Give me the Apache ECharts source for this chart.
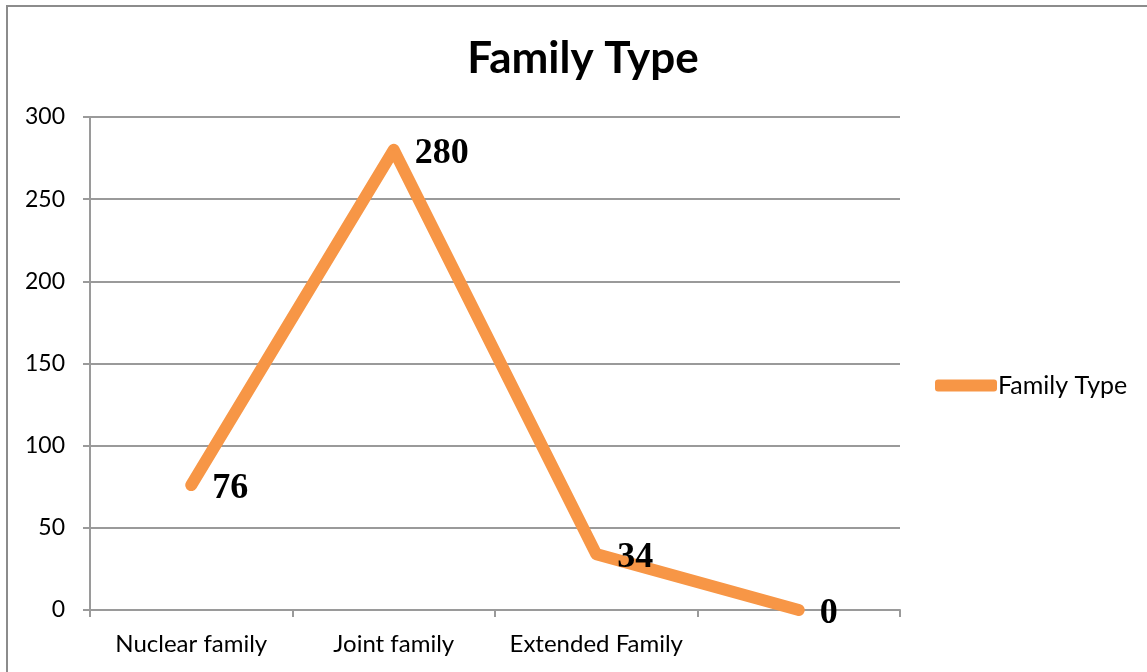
<!DOCTYPE html>
<html>
<head>
<meta charset="utf-8">
<script src="https://cdn.jsdelivr.net/npm/echarts@6/dist/echarts.min.js"></script>
<style>
  html, body { margin: 0; padding: 0; background: #fff; }
  #frame { position: absolute; left: 6px; top: 5px; width: 1160px; height: 700px; border: 2px solid #8c8c8c; box-sizing: border-box; }
  #chart { position: absolute; left: 0; top: 0; width: 1147px; height: 672px; }
</style>
</head>
<body>
<div id="frame"></div>
<div id="chart"></div>
<script>
const categories = ["Nuclear family", "Joint family", "Extended Family", ""];
const familyCounts = [76, 280, 34, 0];
const yTicks = [0, 50, 100, 150, 200, 250, 300];

const LINE_COLOR = "#F79646";
const AXIS_COLOR = "#9a9a9a";
const FONT = "Lato, 'Open Sans', sans-serif";

const chart = echarts.init(document.getElementById("chart"), null, { renderer: "canvas" });

chart.setOption({
  animation: false,
  title: {
    text: "Family Type",
    left: 578,
    textAlign: "center",
    top: 32,
    textStyle: { fontFamily: FONT, fontSize: 44, fontWeight: "bold", color: "#000" },
  },
  legend: {
    left: 930,
    top: 368,
    itemWidth: 62,
    itemHeight: 12,
    itemGap: 4,
    icon: "roundRect",
    textStyle: { fontFamily: FONT, fontSize: 25, color: "#000", padding: [0, 0, 0, -4] },
    data: ["Family Type"],
  },
  grid: { left: 90, right: 247, top: 117, bottom: 62 },
  xAxis: {
    type: "category",
    data: categories,
    boundaryGap: true,
    axisLine: { lineStyle: { color: AXIS_COLOR, width: 2 } },
    axisTick: { show: true, interval: 0, length: 7, lineStyle: { color: AXIS_COLOR, width: 2 } },
    axisLabel: { interval: 0, hideOverlap: false, fontFamily: FONT, fontSize: 24, color: "#000", margin: 22 },
  },
  yAxis: {
    type: "value",
    min: yTicks[0],
    max: yTicks[yTicks.length - 1],
    interval: 50,
    axisLine: { show: true, lineStyle: { color: AXIS_COLOR, width: 2 } },
    axisTick: { show: true, length: 7, lineStyle: { color: AXIS_COLOR, width: 2 } },
    splitLine: { lineStyle: { color: AXIS_COLOR, width: 2 } },
    axisLabel: { fontFamily: FONT, fontSize: 23, color: "#000", margin: 25 },
  },
  series: [
    {
      name: "Family Type",
      type: "line",
      data: familyCounts,
      symbol: "circle",
      symbolSize: 2,
      showSymbol: true,
      color: LINE_COLOR,
      itemStyle: { color: LINE_COLOR },
      lineStyle: { color: LINE_COLOR, width: 12, cap: "round", join: "round" },
      label: {
        show: true,
        position: "right",
        distance: 20,
        offset: [0, 4],
        fontFamily: "'Liberation Serif', 'Times New Roman', serif",
        fontWeight: "bold",
        fontSize: 36,
        color: "#000",
      },
    },
  ],
});
</script>
</body>
</html>
